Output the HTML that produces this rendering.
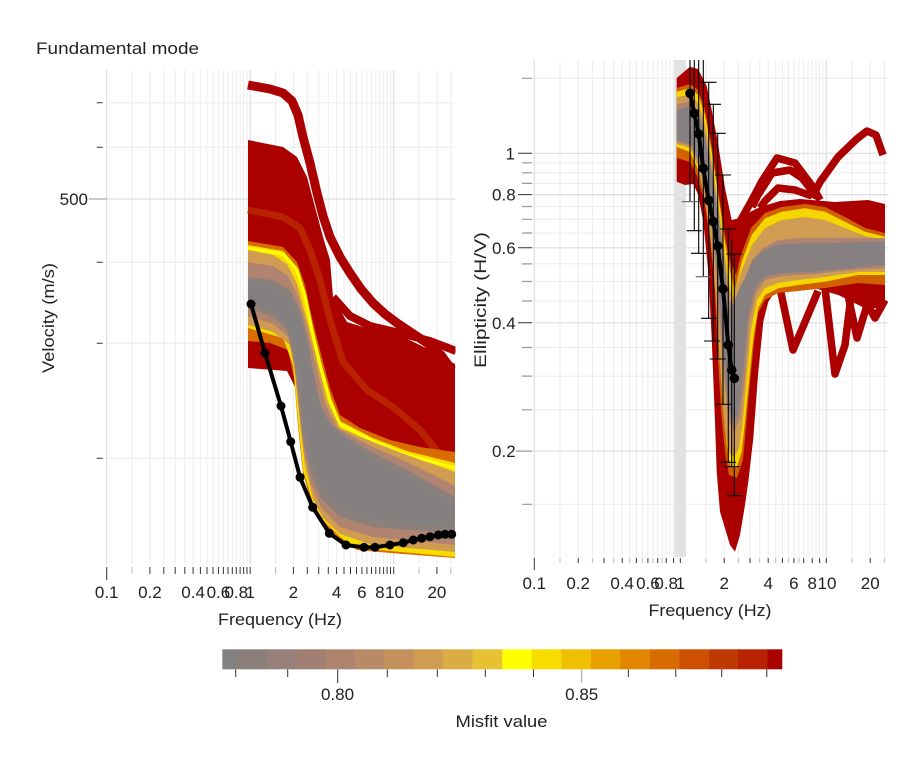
<!DOCTYPE html>
<html><head><meta charset="utf-8"><style>
html,body{margin:0;padding:0;background:#fff;}
svg{display:block;font-family:"Liberation Sans",Arial,sans-serif;}
</style></head><body>
<svg width="923" height="768" viewBox="0 0 923 768" xmlns="http://www.w3.org/2000/svg">
<rect width="923" height="768" fill="#fff"/>
<defs>
<clipPath id="cl"><rect x="247" y="60" width="208.5" height="510"/></clipPath>
<clipPath id="cr"><rect x="674" y="56" width="214" height="502"/></clipPath>
</defs>

<!-- ===== LEFT PLOT ===== -->
<g stroke="#ececec" stroke-width="1" fill="none">
<path d="M132 70V564M149.9 70V564M163.8 70V564M175.2 70V564M184.8 70V564M193.1 70V564M200.4 70V564M207 70V564M213 70V564M218.4 70V564M223.4 70V564M228 70V564M232.3 70V564M236.3 70V564M240.1 70V564M243.6 70V564M247 70V564M275.5 70V564M293.4 70V564M307.3 70V564M318.7 70V564M328.3 70V564M336.6 70V564M344 70V564M350.5 70V564M356.5 70V564M361.9 70V564M366.9 70V564M371.5 70V564M375.8 70V564M379.8 70V564M383.6 70V564M387.1 70V564M390.5 70V564M419 70V564M436.9 70V564M450.8 70V564"/>
<path d="M107 102.7H455M107 147.3H455M107 262.3H455M107 343.3H455M107 458.3H455"/>
</g>
<g stroke="#dedede" stroke-width="1.2" fill="none">
<path d="M106.7 70V564M250.2 70V564M393.7 70V564M107 199H455"/>
</g>
<g stroke="#333" stroke-width="1">
<path d="M96.7 102.7H102.7M96.7 147.3H102.7M96.7 262.3H102.7M96.7 343.3H102.7M96.7 458.3H102.7"/>
</g>
<path d="M89 199H107" stroke="#bbb" stroke-width="1.5"/>
<text x="88" y="205" font-size="17" fill="#222" text-anchor="end">500</text>
<g stroke="#333" stroke-width="1">
<path d="M106.7 567V580M149.9 567V574M163.8 567V574M175.2 567V574M184.8 567V574M193.1 567V574M200.4 567V574M207 567V574M213 567V574M218.4 567V574M223.4 567V574M228 567V574M232.3 567V574M236.3 567V574M240.1 567V574M243.6 567V574M247 567V574M250.2 567V574M293.4 567V574M307.3 567V574M318.7 567V574M328.3 567V574M336.6 567V574M344 567V574M350.5 567V574M356.5 567V574M361.9 567V574M366.9 567V574M371.5 567V574M375.8 567V574M379.8 567V574M383.6 567V574M387.1 567V574M390.5 567V574M393.7 567V574M436.9 567V574"/>
</g>
<g stroke="#bbb" stroke-width="1"><path d="M132 567V574M275.5 567V574M419 567V574M450.8 567V574"/></g>
<g font-size="17" fill="#222" text-anchor="middle">
<text x="106.7" y="598">0.1</text><text x="149.9" y="598">0.2</text><text x="193.1" y="598">0.4</text><text x="218.4" y="598">0.6</text><text x="236.3" y="598">0.8</text><text x="250.2" y="598">1</text><text x="293.4" y="598">2</text><text x="336.6" y="598">4</text><text x="361.9" y="598">6</text><text x="379.8" y="598">8</text><text x="394.5" y="598">10</text><text x="436.9" y="598">20</text>
</g>
<text x="280" y="625" font-size="17" fill="#222" text-anchor="middle" textLength="124" lengthAdjust="spacingAndGlyphs">Frequency (Hz)</text>
<text transform="translate(54,318) rotate(-90)" font-size="17" fill="#222" text-anchor="middle" textLength="110" lengthAdjust="spacingAndGlyphs">Velocity (m/s)</text>
<text x="36" y="54" font-size="17" fill="#222" textLength="163" lengthAdjust="spacingAndGlyphs">Fundamental mode</text>

<g clip-path="url(#cl)">
<polygon fill="#aa0000" points="248,140 283,147 297,157 307,177 315,207 323,237 330,260 333,297 347,322 363,327 397,334 430,350 455,364 455,557 390,551 357,548 337,534 320,504 307,471 300,437 295,387 287,371 248,368"/>
<polyline fill="none" stroke="#aa0000" stroke-width="9" stroke-linejoin="round" points="248,85 270,89 283,93 292,101 298,115 303,137 310,163 317,193 323,216 330,237 340,257 350,273 361,289 373,303 385,314 397,323 412,333 427,343 441,355 452,370"/>
<polyline fill="none" stroke="#aa0000" stroke-width="8" points="333,297 350,316 370,326 400,333 430,341 456,351"/>
<polyline fill="none" stroke="#b82200" stroke-width="7" points="248,210 283,217 300,228 310,250 320,280 330,320 343,362 367,390 393,407 420,430 440,455"/>
<polygon fill="#d86c00" points="248,241 283,247 297,262 305,285 312,318 320,350 330,388 340,415 360,428 390,440 420,447 455,452 455,558 390,553 357,550 340,540 323,524 313,507 303,474 298,426 294,378 288,350 270,343 248,341"/>
<polygon fill="#f7dc00" points="248,245 283,251 297,267 305,292 312,325 320,360 330,397 340,421 373,438 407,451 455,463 455,557 390,551 357,548 340,537 323,520 313,503 303,470 298,420 293,365 283,338 248,328"/>
<polyline fill="none" stroke="#ffff00" stroke-width="3" points="248,248 283,254 297,270 305,296 312,330 320,364 330,400 340,424 373,441 407,455 455,468"/>
<polygon fill="#d09c52" points="248,250 273,255 287,264 297,284 307,320 317,360 327,400 340,428 373,442 407,455 455,472 455,552 373,545 340,534 323,518 313,499 305,466 300,422 295,372 290,345 273,332 248,325"/>
<polygon fill="#b08470" points="248,262 273,266 288,276 298,297 307,328 316,366 325,403 337,428 373,447 407,462 455,486 455,545 373,537 340,527 322,509 311,484 304,452 299,410 294,364 288,337 273,324 248,316"/>
<polygon fill="#8c807c" points="248,277 273,280 290,290 300,310 307,337 313,370 320,403 330,423 347,437 373,453 407,470 455,497 455,533 407,530 373,527 340,517 320,497 310,470 303,437 298,387 293,353 287,330 273,317 248,307"/>
<polygon fill="#858080" points="248,283 275,287 291,298 301,320 308,348 315,383 322,410 333,428 350,442 373,458 407,476 455,503 455,527 407,523 373,519 340,509 322,488 312,460 305,425 300,380 295,348 287,325 273,312 248,301"/>
</g>
<polyline fill="none" stroke="#000" stroke-width="4" stroke-linejoin="round" points="251,304 265,353 281,406 290.7,441.7 300,477.3 312.7,507.3 329.3,533.3 346,545 364,547.3 375,547.3 390,545 403.3,542.7 413.3,540 421.7,538.3 430,536.7 438.3,535 445,534.3 451.7,534.3"/>
<g fill="#000">
<circle cx="251" cy="304" r="4.5"/><circle cx="265" cy="353" r="4.5"/><circle cx="281" cy="406" r="4.5"/><circle cx="290.7" cy="441.7" r="4.5"/><circle cx="300" cy="477.3" r="4.5"/><circle cx="312.7" cy="507.3" r="4.5"/><circle cx="329.3" cy="533.3" r="4.5"/><circle cx="346" cy="545" r="4.5"/><circle cx="364" cy="547.3" r="4.5"/><circle cx="375" cy="547.3" r="4.5"/><circle cx="390" cy="545" r="4.5"/><circle cx="403.3" cy="542.7" r="4.5"/><circle cx="413.3" cy="540" r="4.5"/><circle cx="421.7" cy="538.3" r="4.5"/><circle cx="430" cy="536.7" r="4.5"/><circle cx="438.3" cy="535" r="4.5"/><circle cx="445" cy="534.3" r="4.5"/><circle cx="451.7" cy="534.3" r="4.5"/>
</g>

<!-- ===== RIGHT PLOT ===== -->
<g stroke="#ececec" stroke-width="1" fill="none">
<path d="M560 60V557M578.2 60V557M592.4 60V557M604 60V557M613.7 60V557M622.2 60V557M629.7 60V557M636.4 60V557M642.4 60V557M647.9 60V557M653 60V557M657.7 60V557M662.1 60V557M666.2 60V557M670 60V557M673.6 60V557M677 60V557M706 60V557M724.2 60V557M738.4 60V557M750 60V557M759.7 60V557M768.2 60V557M775.7 60V557M782.4 60V557M788.4 60V557M793.9 60V557M799 60V557M803.7 60V557M808.1 60V557M812.2 60V557M816 60V557M819.6 60V557M823 60V557M852 60V557M870.2 60V557M884.4 60V557"/>
<path d="M532 78.3H888M532 162.8H888M532 172.8H888M532 183.4H888M532 206.5H888M532 219.3H888M532 233H888M532 263.9H888M532 281.5H888M532 301H888M532 347.5H888M532 376.1H888M532 409.8H888M532 504.3H888"/>
</g>
<g stroke="#dedede" stroke-width="1.2" fill="none">
<path d="M534.3 60V557M680.3 60V557M826.3 60V557M532 153.3H888M532 194.6H888M532 247.8H888M532 322.8H888M532 451.1H888"/>
</g>
<rect x="674.3" y="60" width="11.7" height="497" fill="#e2e2e2"/>
<g stroke="#333" stroke-width="1"><path d="M518 153.3H532M518 194.6H532M518 247.8H532M518 322.8H532"/></g>
<g stroke="#999" stroke-width="1.2"><path d="M522 78.3H532M522 162.8H532M522 172.8H532M522 183.4H532M522 206.5H532M522 219.3H532M522 233H532M522 263.9H532M522 281.5H532M522 301H532M522 347.5H532M522 376.1H532M522 409.8H532M522 504.3H532M516 451.1H532"/></g>
<g font-size="17" fill="#222" text-anchor="end">
<text x="515" y="159.3">1</text><text x="515.7" y="200.6">0.8</text><text x="515.7" y="253.8">0.6</text><text x="515.7" y="328.8">0.4</text><text x="515.7" y="457.1">0.2</text>
</g>
<g stroke="#333" stroke-width="1">
<path d="M534.3 558V570M578.2 558V563M604 558V563M622.2 558V563M636.4 558V563M647.9 558V563M657.7 558V563M666.2 558V563M673.6 558V563M680.3 558V563M724.2 558V563M750 558V563M768.2 558V563M782.4 558V563M793.9 558V563M803.7 558V563M812.2 558V563M819.6 558V563M826.3 558V563M870.2 558V563"/>
</g>
<g stroke="#bbb" stroke-width="1"><path d="M560 558V563M592.4 558V563M613.7 558V563M629.7 558V563M642.4 558V563M653 558V563M662.1 558V563M706 558V563M738.4 558V563M759.7 558V563M775.7 558V563M788.4 558V563M799 558V563M852 558V563M884.4 558V563"/></g>
<g font-size="17" fill="#222" text-anchor="middle">
<text x="534.3" y="589">0.1</text><text x="578.2" y="589">0.2</text><text x="622.2" y="589">0.4</text><text x="647.9" y="589">0.6</text><text x="666.2" y="589">0.8</text><text x="680.3" y="589">1</text><text x="724.2" y="589">2</text><text x="768.2" y="589">4</text><text x="793.9" y="589">6</text><text x="812.2" y="589">8</text><text x="827" y="589">10</text><text x="870.2" y="589">20</text>
</g>
<text x="710" y="616" font-size="17" fill="#222" text-anchor="middle" textLength="123" lengthAdjust="spacingAndGlyphs">Frequency (Hz)</text>
<text transform="translate(486,300) rotate(-90)" font-size="17" fill="#222" text-anchor="middle" textLength="136" lengthAdjust="spacingAndGlyphs">Ellipticity (H/V)</text>

<g clip-path="url(#cr)">
<polygon fill="#aa0000" points="676.7,78 690,66.7 698,69 706.7,86 711.7,110 718.3,145 725,188.3 731.7,220 740,218 748,213 760,207 780,201 800,199 835,202 868,200 885,204 885,308.3 865,308.3 838.3,295 815,288.3 791.7,288.3 775,291.7 768.3,301.7 763.3,321.7 758.3,371.7 753.3,438.3 748.3,481.7 745,505 740,535 735,551.7 730,545 725,528.3 720,511.7 716.7,471.7 715,421.7 711.7,338.3 708.3,271.7 703.3,221.7 698.3,195 693.3,184 685,185 676.7,181.7"/>
<g fill="none" stroke="#aa0000" stroke-width="7.5" stroke-linejoin="round">
<polyline points="738,225 752,200 762,181 777,158 795,163 813,187 820,200"/>
<polyline points="752,207 758,195 772,173 790,170 802,178 813,192"/>
<polyline points="760,208 765,201 778,188 795,190 812,196"/>
<polyline points="812,198 820,182 838,157 856.7,139 867,131 876,135 883,155"/>
<polyline points="780,288 793,350 805,322 818,291"/>
<polyline points="825,288 835,374 845,345 852,288"/>
<polyline points="848,295 857,338 868,302"/>
<polyline points="865,300 875,318 885,300"/>
</g>
<polygon fill="#d06000" points="676.7,88 690,84 698.3,90 705,110 711.7,146 718.3,190 725,236 730,262 736,275 741,255 751,228 765,213 781.7,207 805,204 825,207 845,217 865,228 885,233 885,285 858,283 825,288 798,291 778,293 765,300 758,313 754,343 749,393 746,428 743,460 737,478 729,475 725,452 721,410 718,360 715,292 710,238 704,200 697,176 690,162 676.7,158"/>
<polygon fill="#f5d600" points="676.7,91.7 690,88.3 698.3,95 705,115 711.7,151.7 718.3,195 725,241.7 730,271.7 735,290 741.7,261.7 751.7,235 765,218.3 781.7,211.7 805,208.3 825,211.7 845,221.7 865,231.7 885,236.7 885,275 858.3,275 825,281.7 798.3,285 778.3,288.3 765,295 758.3,308.3 753.3,338.3 748.3,388.3 745,421.7 741.7,451.7 736.7,468.3 730,465 726.7,445 723.3,405 720,355 716.7,288.3 711.7,235 705,198.3 698.3,170 690,152 676.7,147"/>
<polygon fill="#d09c52" points="676.7,97 690,95 698.3,103 705,125 711.7,162 718.3,205 724,248 728,280 732,300 738,280 745,262 752,245 765,228 781.7,220 805,217 825,220 845,228 865,236 885,240 885,272 858,272 825,277 798,280 778,283 765,288 757,300 751,330 746,385 743,420 739,448 734,457 729,452 725,430 722,395 719,350 715,285 710,232 704,195 698,166 690,148 676.7,144"/>
<polygon fill="#ae8470" points="676.7,104 688,102 695,106 701,120 708,150 714.7,190 721,235 725.5,270 729,300 733,305 740,290 746,275 752,260 763,248 778,240 800,238 830,238 865,238 885,238 885,268 852,270 815,274 782,276 765,280 756,293 749.5,322 745,378 740.5,418 734,432 728.5,420 725,385 721,340 717,283 712,230 705,193 699,164 691,146 676.7,142"/>
<polygon fill="#878080" points="676.7,110 685,108 691.7,105 698.3,113 705,135 711.7,172 718.3,215 723.3,255 727,290 730,310 735,300 741,285 746.7,275 751.7,262 761.7,251.7 775,245 798.3,243.3 831.7,243.3 865,241.7 885,241.7 885,265 851.7,268.3 815,271.7 781.7,273.3 765,276.7 755,288.3 748.3,315 743.3,371.7 738.3,415 733.3,421.7 728.3,408.3 725,371.7 721.7,328.3 718.3,281.7 713.3,235 706.7,198.3 700,164 691.7,145 676.7,140"/>
</g>
<g stroke="#000" stroke-width="1.1" fill="none">
<path d="M690 60V201.7M694.3 60V230.7M698.7 60V253.3M703.3 60V276.7M708.7 82.3V318.3M713.3 104.3V341M717.7 133.3V359M723 175V404.3M728.3 229V462.3M731.7 240V466.7M734.3 254V495.7"/>
<path d="M686.7 230.7H701.7M691 253.3H706.4M701 318.3H716.4M704 341H720M709.7 359H725.7M714.8 404.3H731M720.5 462.3H736M724 466.7H739.4M726.5 495.7H742.5M700.5 82.3H716.5M705 104.3H721M709.7 133.3H725.7M715 175H731M720.3 229H736.3M726.3 254H742.3"/>
</g>
<g stroke="#666" stroke-width="1.1"><path d="M681.7 201.7H698.3M695.7 276.7H711"/></g>
<polyline fill="none" stroke="#000" stroke-width="4" stroke-linejoin="round" points="690,93.3 694.3,113.3 698.7,134 703.3,168.3 708.7,200.3 713.3,221.7 717.7,246 723,289 728.3,345 731.7,370 734.3,378.3"/>
<g fill="#000">
<circle cx="690" cy="93.3" r="4.8"/><circle cx="694.3" cy="113.3" r="4.8"/><circle cx="698.7" cy="134" r="4.8"/><circle cx="703.3" cy="168.3" r="4.8"/><circle cx="708.7" cy="200.3" r="4.8"/><circle cx="713.3" cy="221.7" r="4.8"/><circle cx="717.7" cy="246" r="4.8"/><circle cx="723" cy="289" r="4.8"/><circle cx="728.3" cy="345" r="4.8"/><circle cx="731.7" cy="370" r="4.8"/><circle cx="734.3" cy="378.3" r="4.8"/>
</g>

<!-- ===== COLORBAR ===== -->
<g>
<rect x="222.3" y="649.3" width="14.8" height="20" fill="#828282"/>
<rect x="237" y="649.3" width="29.6" height="20" fill="#8b7f7c"/>
<rect x="266.5" y="649.3" width="29.6" height="20" fill="#968079"/>
<rect x="296" y="649.3" width="29.6" height="20" fill="#a17f73"/>
<rect x="325.4" y="649.3" width="29.6" height="20" fill="#ad846e"/>
<rect x="354.9" y="649.3" width="29.6" height="20" fill="#b98a66"/>
<rect x="384.4" y="649.3" width="29.6" height="20" fill="#c4905c"/>
<rect x="413.8" y="649.3" width="29.6" height="20" fill="#d09c52"/>
<rect x="443.3" y="649.3" width="29.6" height="20" fill="#dbac43"/>
<rect x="472.8" y="649.3" width="29.6" height="20" fill="#e6c232"/>
<rect x="502.3" y="649.3" width="29.6" height="20" fill="#ffff00"/>
<rect x="531.7" y="649.3" width="29.6" height="20" fill="#f7dc00"/>
<rect x="561.2" y="649.3" width="29.6" height="20" fill="#efc000"/>
<rect x="590.7" y="649.3" width="29.6" height="20" fill="#e8a000"/>
<rect x="620.1" y="649.3" width="29.6" height="20" fill="#e28600"/>
<rect x="649.6" y="649.3" width="29.6" height="20" fill="#d86c00"/>
<rect x="679.1" y="649.3" width="29.6" height="20" fill="#cc5000"/>
<rect x="708.6" y="649.3" width="29.6" height="20" fill="#c03900"/>
<rect x="738" y="649.3" width="29.6" height="20" fill="#b82200"/>
<rect x="767.5" y="649.3" width="14.8" height="20" fill="#aa0000"/>
</g>
<g stroke="#333" stroke-width="1">
<path d="M235.7 669.5V677M287.7 669.5V677M337.7 669.5V683M387.3 669.5V677M437.3 669.5V677M485.3 669.5V677M533.5 669.5V677M628.4 669.5V677M675.8 669.5V677M721.7 669.5V677M766.8 669.5V677"/>
</g>
<path d="M581.7 669.5V683" stroke="#999" stroke-width="1"/>
<g font-size="17" fill="#222" text-anchor="middle">
<text x="337.5" y="700">0.80</text><text x="581.7" y="700">0.85</text>
</g>
<text x="501.5" y="727" font-size="17" fill="#222" text-anchor="middle" textLength="92" lengthAdjust="spacingAndGlyphs">Misfit value</text>
</svg>
</body></html>
